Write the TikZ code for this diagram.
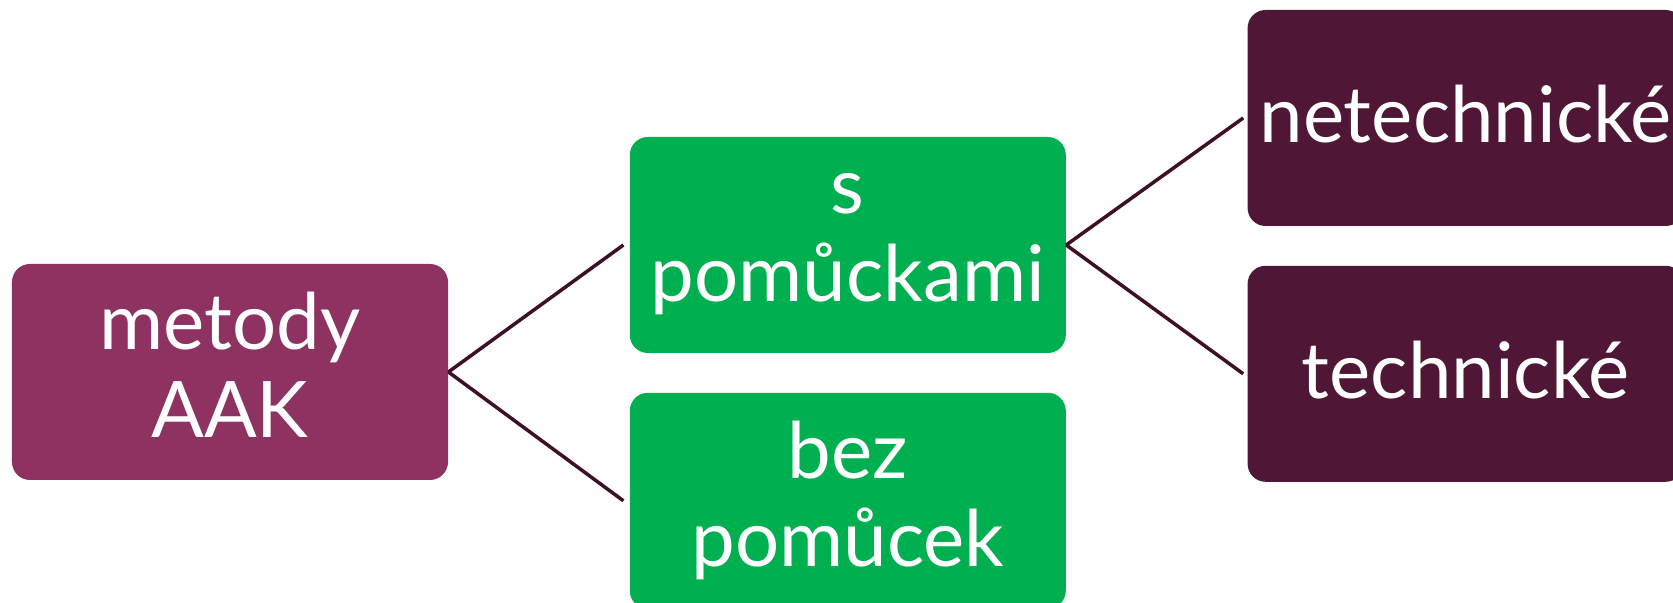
\documentclass[tikz,border=0pt]{standalone}
\usepackage{fontspec}
\setmainfont{Lato}
\usetikzlibrary{positioning}
\definecolor{rootcol}{RGB}{142,50,98}
\definecolor{midcol}{RGB}{0,176,80}
\definecolor{leafcol}{RGB}{79,22,53}
\definecolor{linkcol}{RGB}{62,16,40}
\newcommand{\boxstrut}{\rule[-7.5pt]{0pt}{39.5pt}}
\tikzset{
  node distance=19.5pt and 90.5pt,
  basebox/.style={rectangle, rounded corners=9pt, inner sep=2pt,
    minimum width=218pt, minimum height=108pt, text=white, align=center,
    font=\fontsize{39}{44}\selectfont,
    execute at begin node=\boxstrut, execute at end node=\boxstrut},
  rootbox/.style={basebox, fill=rootcol},
  midbox/.style={basebox, fill=midcol},
  leafbox/.style={basebox, fill=leafcol},
  link/.style={draw=linkcol, line width=1.75pt},
}

\begin{document}
\begin{tikzpicture}
      \useasboundingbox (-115pt,-115.5pt) rectangle (721.5pt,186pt);

      \node[rootbox]                                  (metody) {metody\\AAK};
      \node[midbox,right=of metody,yshift=63.5pt]     (spom)   {s\\pomůckami};
      \node[midbox,below=of spom]                     (bez)    {bez\\pomůcek};
      \node[leafbox,right=of spom,yshift=63.5pt]      (netech) {netechnické};
      \node[leafbox,below=of netech]                  (tech)   {technické};

      \draw[link] (metody.east) -- ([xshift=-3pt]spom.west)
                  (metody.east) -- ([xshift=-3pt]bez.west)
                  (spom.east)   -- ([xshift=-2pt]netech.west)
                  (spom.east)   -- ([xshift=-2pt]tech.west);
\end{tikzpicture}
\end{document}
